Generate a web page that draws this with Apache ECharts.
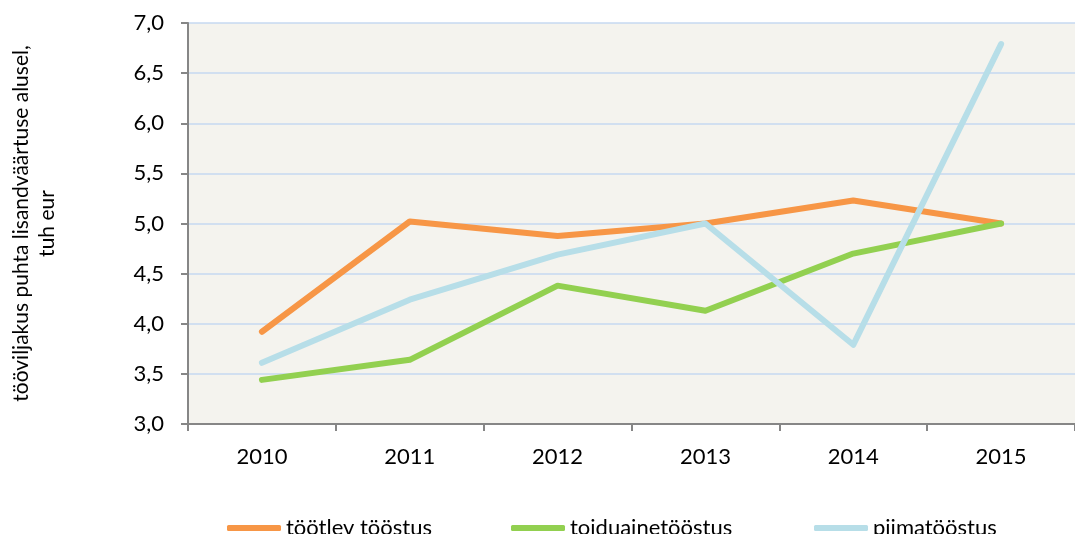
<!DOCTYPE html>
<html>
<head>
    <meta charset="utf-8">
    <title>Tööviljakus</title>
    <script src="https://cdn.jsdelivr.net/npm/echarts@6/dist/echarts.min.js"></script>
    <style>
        html, body { margin: 0; padding: 0; background: #fff; }
    </style>
</head>
<body>
<div id="chart" style="width: 1075px; height: 534px;"></div>
<script>
    // andmed
    var years = ['2010', '2011', '2012', '2013', '2014', '2015'];
    var tootlev = [3.92, 5.02, 4.875, 5.0, 5.23, 5.0];
    var toiduaine = [3.44, 3.64, 4.38, 4.13, 4.70, 5.0];
    var piima = [3.61, 4.24, 4.69, 5.0, 3.79, 6.79];
    var seriesNames = ['töötlev tööstus', 'toiduainetööstus', 'piimatööstus'];
    var colors = ['#F79646', '#92D050', '#B7DEE8'];

    var myChart = echarts.init(document.getElementById('chart'));

    var font = 'Lato, "Open Sans", sans-serif';

    function lineSeries(name, data, color) {
        return {
            name: name,
            type: 'line',
            data: data,
            symbol: 'none',
            color: color,
            lineStyle: { width: 6, color: color, cap: 'round', join: 'round' }
        };
    }

    // üks legend iga seeria kohta, et paigutus klapiks
    var legendLeft = [222, 506, 809];
    var legends = seriesNames.map(function (name, i) {
        return {
            left: legendLeft[i],
            top: 512,
            icon: 'roundRect',
            itemWidth: 54,
            itemHeight: 6,
            textStyle: { fontSize: 22, color: '#000', fontFamily: font },
            data: [name]
        };
    });

    var option = {
        animation: false,
        textStyle: { fontFamily: font },
        grid: {
            left: 185,
            top: 23,
            width: 899,
            height: 401,
            show: true,
            backgroundColor: '#F4F3EE',
            borderWidth: 0
        },
        legend: legends,
        xAxis: {
            type: 'category',
            data: years,
            boundaryGap: true,
            axisLine: { lineStyle: { color: '#868686', width: 2 } },
            axisTick: { show: true, length: 7, lineStyle: { color: '#868686', width: 2 } },
            axisLabel: { fontSize: 22, color: '#000', margin: 22 },
            splitLine: { show: false }
        },
        yAxis: {
            type: 'value',
            min: 3,
            max: 7,
            interval: 0.5,
            name: 'tööviljakus puhta lisandväärtuse alusel,\ntuh eur',
            nameLocation: 'middle',
            nameGap: 128,
            nameTextStyle: { fontSize: 21, color: '#000', lineHeight: 26, fontFamily: font },
            axisLine: { show: true, lineStyle: { color: '#868686', width: 2 } },
            axisTick: { show: true, length: 7, lineStyle: { color: '#868686', width: 2 } },
            axisLabel: {
                fontSize: 22,
                color: '#000',
                margin: 24,
                formatter: function (v) { return v.toFixed(1).replace('.', ','); }
            },
            splitLine: { lineStyle: { color: '#C6D9F1', width: 1.5 } }
        },
        series: [
            lineSeries(seriesNames[0], tootlev, colors[0]),
            lineSeries(seriesNames[1], toiduaine, colors[1]),
            lineSeries(seriesNames[2], piima, colors[2])
        ]
    };

    myChart.setOption(option);
</script>
</body>
</html>
